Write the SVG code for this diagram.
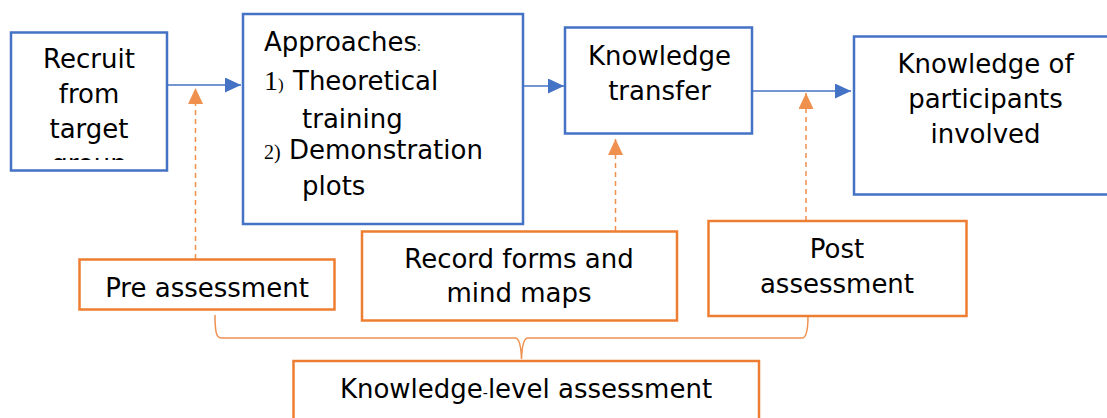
<svg xmlns="http://www.w3.org/2000/svg" width="1107" height="418" viewBox="0 0 1107 418">
<style>
.bb{fill:#fff;stroke:#4472C4;stroke-width:2.5}
.ob{fill:#fff;stroke:#ED7D31;stroke-width:2.5}
.t{font-family:"DejaVu Sans",Verdana,sans-serif;font-size:26px;fill:#000}
.c{text-anchor:middle}
.s{font-family:"Liberation Serif","Times New Roman",serif}
.bl{stroke:#4472C4;stroke-width:1.5;fill:none}
.dl{stroke:#ED7D31;stroke-width:1.5;stroke-dasharray:5 4;fill:none;opacity:0.85}
.br{stroke:#ED7D31;stroke-width:1.5;fill:none;opacity:0.85}
</style>
<defs>
<marker id="ab" markerWidth="16" markerHeight="15" refX="16" refY="7.5" orient="auto" markerUnits="userSpaceOnUse"><path d="M0,0 L16,7.5 L0,15 Z" fill="#4472C4"/></marker>
<marker id="ao" markerWidth="16" markerHeight="15" refX="16" refY="7.5" orient="auto" markerUnits="userSpaceOnUse"><path d="M0,0 L16,7.5 L0,15 Z" fill="#ED7D31"/></marker>
<clipPath id="c1"><rect x="11" y="32" width="156" height="128"/></clipPath>
</defs>
<g id="connectors">
<line class="bl" x1="167" y1="85" x2="241" y2="85" marker-end="url(#ab)"/>
<line class="bl" x1="523" y1="86" x2="564" y2="86" marker-end="url(#ab)"/>
<line class="bl" x1="746" y1="91" x2="851" y2="91" marker-end="url(#ab)"/>
<line class="dl" x1="195.5" y1="259" x2="195.5" y2="88" marker-end="url(#ao)"/>
<line class="dl" x1="615.5" y1="231" x2="615.5" y2="139" marker-end="url(#ao)"/>
<line class="dl" x1="806" y1="221" x2="806" y2="93" marker-end="url(#ao)"/>
<path class="br" d="M215,315 C215,330 216,338 221,338 L515,338 C519,338 521,345 521.5,359 C522,345 524,338 528,338 L802,338 C806,338 808,330 808,316"/>
</g>
<g id="recruit">
<rect class="bb" x="11" y="32.5" width="156" height="138"/>
<g clip-path="url(#c1)">
<text class="t c" x="89" y="68">Recruit</text>
<text class="t c" x="89" y="103">from</text>
<text class="t c" x="89" y="138">target</text>
<text class="t c" x="89" y="173">group</text>
</g>
</g>
<g id="approaches">
<rect class="bb" x="243" y="14" width="280" height="210"/>
<text class="t" x="264" y="51">Approaches<tspan class="s" font-size="14">:</tspan></text>
<text class="t" x="264" y="90"><tspan class="s" font-size="28">1</tspan><tspan class="s" font-size="17">)</tspan></text>
<text class="t" x="293" y="90">Theoretical</text>
<text class="t" x="302" y="128">training</text>
<text class="t" x="264" y="159"><tspan class="s" font-size="20">2)</tspan></text>
<text class="t" x="289" y="159">Demonstration</text>
<text class="t" x="302" y="195">plots</text>
</g>
<g id="transfer">
<rect class="bb" x="565" y="27.5" width="187" height="106"/>
<text class="t c" x="659.5" y="65">Knowledge</text>
<text class="t c" x="659.5" y="100">transfer</text>
</g>
<g id="participants">
<rect class="bb" x="854" y="36.5" width="262" height="158"/>
<text class="t c" x="985.5" y="73">Knowledge of</text>
<text class="t c" x="985.5" y="108">participants</text>
<text class="t c" x="985.5" y="143">involved</text>
</g>
<g id="pre">
<rect class="ob" x="79.5" y="259.5" width="255" height="50"/>
<text class="t c" x="207" y="297">Pre assessment</text>
</g>
<g id="record">
<rect class="ob" x="362" y="231.5" width="315" height="89"/>
<text class="t c" x="519" y="268">Record forms and</text>
<text class="t c" x="519" y="302">mind maps</text>
</g>
<g id="post">
<rect class="ob" x="708.5" y="221" width="258" height="95"/>
<text class="t c" x="837" y="258">Post</text>
<text class="t c" x="837" y="293">assessment</text>
</g>
<g id="klevel">
<rect class="ob" x="293.5" y="361" width="465.5" height="70"/>
<text class="t c" x="526" y="398">Knowledge<tspan font-size="14">-</tspan>level assessment</text>
</g>
</svg>
